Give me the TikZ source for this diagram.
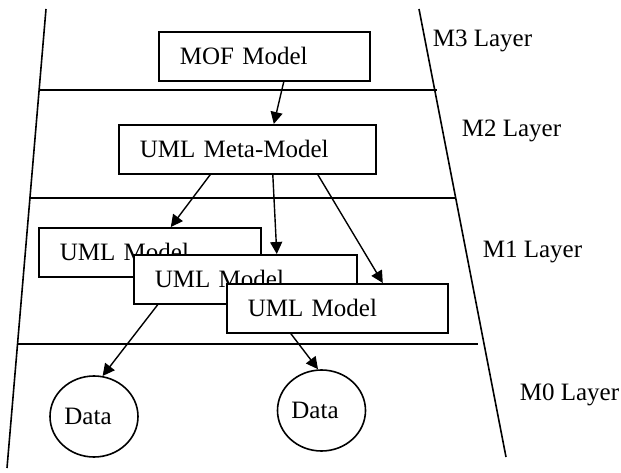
\documentclass[tikz,border=0pt]{standalone}
\usepackage{fontspec}
\setmainfont{Liberation Serif}
\usetikzlibrary{arrows.meta,shapes.geometric}
\begin{document}
\begin{tikzpicture}[x=1pt,y=-1pt,
  font=\fontsize{25}{30}\selectfont,
  line width=1.6pt,
  modelbox/.style={draw, fill=white, anchor=north west, minimum height=49pt,
    inner xsep=21pt, inner ysep=0pt, align=left},
  databox/.style={draw, fill=white, ellipse, minimum width=88pt, minimum height=81pt, inner sep=0pt},
  layerlabel/.style={anchor=base west, inner sep=0pt},
  conn/.style={-{Triangle[length=12pt,width=12pt]}, line width=1.4pt}
]
\useasboundingbox (0,0) rectangle (621,473);
% layer frame
\draw (46,9) -- (7,468);
\draw (419,9) -- (506,457);
\draw (39,90) -- (437,90);
\draw (30,198) -- (455,198);
\draw (17,344) -- (478,344);
% layer labels
\node[layerlabel] (m3) at (432,47) {M3 Layer};
\node[layerlabel] (m2) at (461,137) {M2 Layer};
\node[layerlabel] (m1) at (482,258) {M1 Layer};
\node[layerlabel] (m0) at (519,400) {M0 Layer};
% boxes
\node[modelbox, text width=169pt] (mof) at (158,31) {MOF Model};
\node[modelbox, text width=215pt] (meta) at (118,124) {UML Meta-Model};
\node[modelbox, text width=180pt] (u1) at (38,227) {UML Model};
\node[modelbox, text width=181pt] (u2) at (133,254) {UML Model};
\node[modelbox, text width=179pt] (u3) at (226,283) {UML Model};
% data
\node[databox] (d1) at (94,416.5) {Data\kern12pt};
\node[databox] (d2) at (321.5,410.5) {Data\kern13pt};
% connectors
\draw[conn] ([xshift=19.5pt]mof.south) -- ([xshift=26.5pt]meta.north);
\draw[conn] ([xshift=-37pt]meta.south) -- ([xshift=21pt]u1.north);
\draw[conn] ([xshift=25.5pt]meta.south) -- ([xshift=31.5pt]u2.north);
\draw[conn] ([xshift=70.5pt]meta.south) -- ([xshift=45.5pt]u3.north);
\draw[conn] ([xshift=-87.5pt]u2.south) -- (d1.78);
\draw[conn] ([xshift=-46.5pt]u3.south) -- ([xshift=-3.5pt]d2.north);
\end{tikzpicture}
\end{document}
